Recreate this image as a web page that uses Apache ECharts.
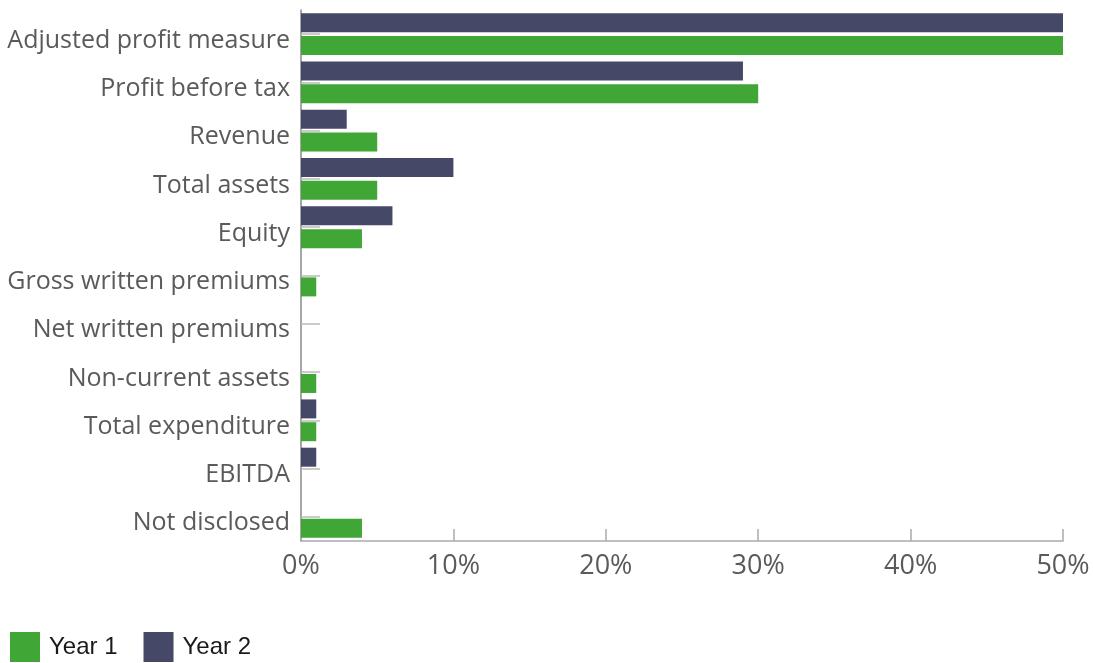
<!DOCTYPE html>
<html>
<head>
<meta charset="utf-8">
<script src="https://cdn.jsdelivr.net/npm/echarts@6/dist/echarts.min.js"></script>
<style>
    html, body { margin: 0; padding: 0; background: #fff; }
    #chart { width: 1093px; height: 663px; }
</style>
</head>
<body>
<div id="chart"></div>
<script>
const categories = [
    'Adjusted profit measure',
    'Profit before tax',
    'Revenue',
    'Total assets',
    'Equity',
    'Gross written premiums',
    'Net written premiums',
    'Non-current assets',
    'Total expenditure',
    'EBITDA',
    'Not disclosed',
]
const year1 = [50, 30, 5, 5, 4, 1, 0, 1, 1, 0, 4]
const year2 = [50, 29, 3, 10, 6, 0, 0, 0, 1, 1, 0]
const xTicks = [0, 10, 20, 30, 40, 50]

const chart = echarts.init(document.getElementById('chart'), null, { renderer: 'canvas' })

const option = {
    animation: false,
    textStyle: { fontFamily: 'Open Sans' },
    legend: {
        data: ['Year 1', 'Year 2'],
        left: 10,
        top: 632,
        padding: 0,
        itemWidth: 30,
        itemHeight: 30,
        itemGap: 26,
        icon: 'rect',
        textStyle: { fontSize: 24, color: '#1a1a1a', fontFamily: 'Liberation Sans', padding: [8, 0, 0, 4] },
    },
    grid: {
        left: 301,
        right: 30,
        top: 10,
        bottom: 122,
        containLabel: false,
    },
    xAxis: {
        type: 'value',
        min: xTicks[0],
        max: xTicks[xTicks.length - 1],
        interval: 10,
        axisLine: { show: true, lineStyle: { color: '#aaa', width: 1.5 } },
        axisTick: { show: true, inside: true, length: 12, lineStyle: { color: '#aaa', width: 1.5 } },
        splitLine: { show: false },
        axisLabel: {
            formatter: '{value}%',
            fontSize: 27,
            color: '#5a5a5a',
            margin: 12,
        },
    },
    yAxis: {
        type: 'category',
        data: categories,
        inverse: true,
        axisLine: { show: true, lineStyle: { color: '#888', width: 1.5 } },
        axisTick: { show: true, inside: true, alignWithLabel: true, length: 19, lineStyle: { color: '#bbb', width: 1.5 } },
        axisLabel: {
            fontSize: 25,
            color: '#5a5a5a',
            margin: 11,
            verticalAlign: 'top',
            lineHeight: 13,
        },
    },
    series: [
        {
            name: 'Year 2',
            type: 'bar',
            data: year2,
            itemStyle: { color: '#454866' },
            barWidth: 19,
            barGap: '20%',
        },
        {
            name: 'Year 1',
            type: 'bar',
            data: year1,
            itemStyle: { color: '#40a635' },
            barWidth: 19,
            barGap: '20%',
        },
    ],
}

chart.setOption(option)
</script>
</body>
</html>
